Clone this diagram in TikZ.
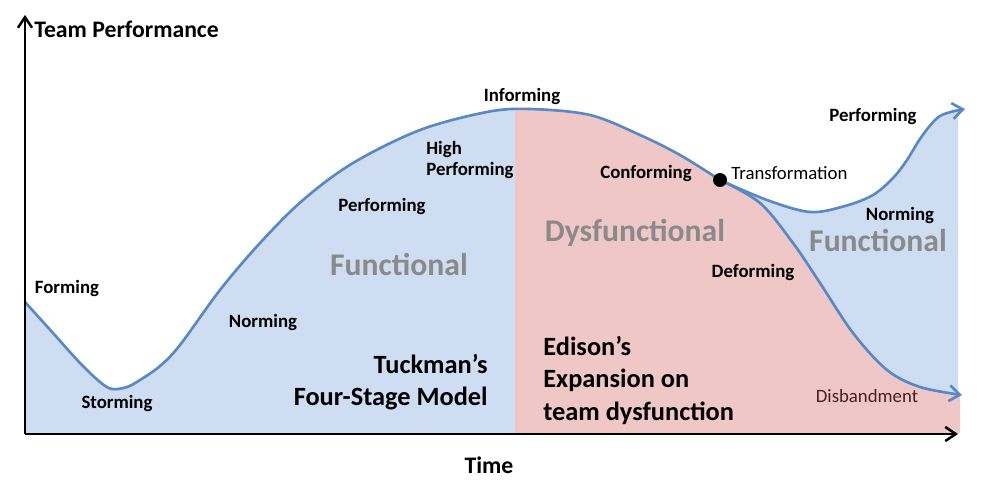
\documentclass[tikz,border=0pt]{standalone}
\usepackage{fontspec}
\setmainfont{Carlito}
\usetikzlibrary{arrows.meta}
\definecolor{bluefill}{RGB}{206,221,241}
\definecolor{pinkfill}{RGB}{239,199,199}
\definecolor{curveblue}{RGB}{88,137,196}
\definecolor{graytxt}{RGB}{138,138,138}
\definecolor{maroon}{RGB}{80,28,28}
\tikzset{
  lbl/.style={font=\fontsize{10.7}{12.5}\selectfont\bfseries, text=black, inner sep=0pt},
  lblreg/.style={font=\fontsize{10.7}{12.5}\selectfont, inner sep=0pt},
  bigtxt/.style={font=\fontsize{18}{20}\selectfont\bfseries, text=graytxt, inner sep=0pt},
  modeltxt/.style={font=\fontsize{15}{18.5}\selectfont\bfseries, inner sep=0pt},
  axistxt/.style={font=\fontsize{13.5}{15}\selectfont\bfseries, inner sep=0pt},
  curve/.style={draw=curveblue, line width=1.5pt},
  axisline/.style={line width=1.4pt, -{Straight Barb[length=6pt,width=8pt]}},
  tip/.style={-{Straight Barb[length=6pt,width=9pt]}},
}
\begin{document}
\begin{tikzpicture}[x=0.02cm, y=-0.02cm]
\useasboundingbox (0,0) rectangle (983,483);
% fills
\begin{scope}
\clip (25,0) rectangle (958,433);
\fill[bluefill] plot[smooth,tension=0.55] coordinates {(25,302) (53,333) (80,363) (100,382) (112,389) (127,387) (140,380) (160,366) (180,345) (220,290) (260,243) (303,200) (353,163) (420,130) (487,112) (530,109) (590,115) (640,135) (680,155) (720,180)}
  -- plot[smooth,tension=0.55] coordinates {(720,180) (767,200) (810,212) (845,206) (873,195) (893,178) (907,160) (922,136) (940,116) (965,109)}
  -- (965,433) -- (25,433) -- cycle;
\end{scope}
\begin{scope}
\clip (515,0) rectangle (960,433);
\fill[pinkfill] plot[smooth,tension=0.55] coordinates {(25,302) (53,333) (80,363) (100,382) (112,389) (127,387) (140,380) (160,366) (180,345) (220,290) (260,243) (303,200) (353,163) (420,130) (487,112) (530,109) (590,115) (640,135) (680,155) (720,180)}
  -- plot[smooth,tension=0.55] coordinates {(720,180) (760,203) (793,243) (820,283) (853,333) (887,370) (920,387) (962,395)}
  -- (962,433) -- (25,433) -- cycle;
\end{scope}
% curves
\draw[curve] plot[smooth,tension=0.55] coordinates {(25,302) (53,333) (80,363) (100,382) (112,389) (127,387) (140,380) (160,366) (180,345) (220,290) (260,243) (303,200) (353,163) (420,130) (487,112) (530,109) (590,115) (640,135) (680,155) (720,180)};
\draw[curve,tip] plot[smooth,tension=0.55] coordinates {(720,180) (767,200) (810,212) (845,206) (873,195) (893,178) (907,160) (922,136) (940,116) (965,109)};
\draw[curve,tip] plot[smooth,tension=0.55] coordinates {(720,180) (760,203) (793,243) (820,283) (853,333) (887,370) (920,387) (962,395)};
% axes
\coordinate (origin) at (25,434);
\coordinate (ytop) at (25,15);
\coordinate (xend) at (958,434);
\draw[axisline] (origin) -- (ytop);
\draw[axisline] (origin) -- (xend);
% transformation point
\node[circle, fill=black, inner sep=0pt, minimum size=0.28cm] (tdot) at (720,180) {};
% labels
\node[axistxt, anchor=west] (ylabel) at (34,29) {Team Performance};
\node[axistxt] (xlabel) at (489,465) {Time};
\node[lbl] (forming) at (67,288) {Forming};
\node[lbl] (storming) at (117,403) {Storming};
\node[lbl] (norming) at (263,322) {Norming};
\node[lbl] (performing) at (382,206) {Performing};
\node[lbl, anchor=west, align=left] (highperf) at (426,160) {High\\Performing};
\node[lbl] (informing) at (522,96) {Informing};
\node[lbl] (conforming) at (646,173) {Conforming};
\node[lblreg, anchor=west] (transf) at (731,173) {Transformation};
\node[lbl] (deforming) at (753,272) {Deforming};
\node[lbl] (performing2) at (873,116) {Performing};
\node[lbl] (norming2) at (900,215) {Norming};
\node[lblreg, text=maroon] (disband) at (867,396) {Disbandment};
\node[bigtxt] (func1) at (399,264) {Functional};
\node[bigtxt] (dysf) at (635,233) {Dysfunctional};
\node[bigtxt] (func2) at (878,240) {Functional};
\node[modeltxt, anchor=east, align=right] (tuck) at (488,382) {Tuckman’s\\Four-Stage Model};
\node[modeltxt, anchor=west, align=left] (edison) at (543,380) {Edison’s\\Expansion on\\team dysfunction};
\end{tikzpicture}
\end{document}
